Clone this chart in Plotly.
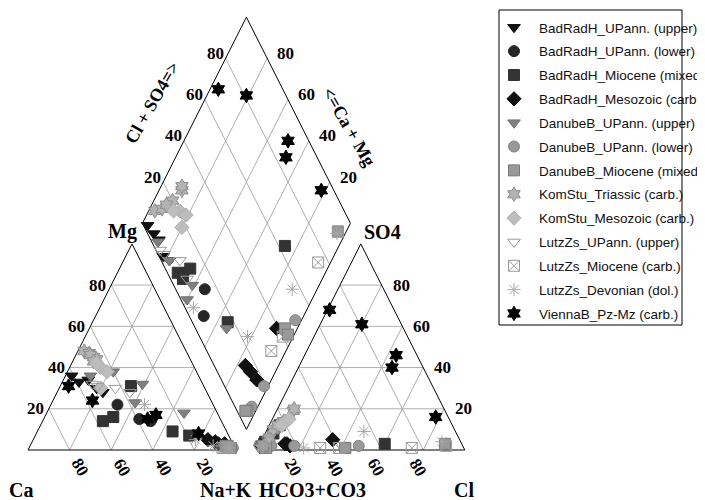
import numpy as np
import plotly.graph_objects as go

H = np.sqrt(3) / 2
GAP = 0.1
TICKS = [20, 40, 60, 80]

NAMES = ["BadRadH_UPann. (upper)", "BadRadH_UPann. (lower)", "BadRadH_Miocene (mixed)",
         "BadRadH_Mesozoic (carb.)", "DanubeB_UPann. (upper)", "DanubeB_UPann. (lower)",
         "DanubeB_Miocene (mixed)", "KomStu_Triassic (carb.)", "KomStu_Mesozoic (carb.)",
         "LutzZs_UPann. (upper)", "LutzZs_Miocene (carb.)", "LutzZs_Devonian (dol.)",
         "ViennaB_Pz-Mz (carb.)"]

# samples: (Mg %, Na+K %, SO4 %, Cl %)  (Ca and HCO3+CO3 are the remainders)
BR_UP = [(36, 3, 1, 1), (34, 12, 3, 1), (30, 18, 1, 1), (28, 22, 2, 2), (33, 8, 2, 1)]
BR_LO = [(15, 46, 10, 4), (14, 52, 4, 3), (22, 32, 5, 3)]
BR_MIO = [(7, 74, 3, 60), (9, 65, 12, 5), (31, 34, 8, 4), (14, 29, 3, 2), (16, 33, 4, 2)]
BR_MESO = [(5, 84, 3, 12), (4, 88, 3, 13), (3, 93, 2, 15), (3, 90, 5, 34)]
DB_UP = [(18, 66, 10, 5), (23, 40, 2, 1), (32, 39, 6, 3), (38, 22, 3, 1), (36, 12, 2, 1)]
DB_LO = [(1, 98, 2, 17), (1, 97, 2, 48), (1, 97, 2, 6)]
DB_MIO = [(2, 94, 1, 42), (1, 97, 1, 42), (1, 96, 1, 4), (2, 95, 2, 2), (1, 96, 3, 89)]
KS_TRI = [(48, 3, 6, 3), (47, 6, 10, 3), (45, 9, 14, 6), (44, 11, 19, 8), (46, 7, 12, 4), (43, 10, 20, 8)]
KS_MESO = [(40, 15, 14, 7), (38, 19, 15, 8), (42, 12, 12, 6), (30, 20, 12, 6)]
LZ_UP = [(32, 15, 1, 1), (31, 18, 1, 2), (30, 27, 6, 3), (28, 35, 5, 3)]
LZ_MIO = [(1, 93, 1, 30), (1, 94, 1, 74), (1, 95, 1, 39), (1, 96, 2, 90)]
LZ_DEV = [(22, 45, 2, 2), (5, 78, 1, 22), (2, 88, 9, 47), (1, 96, 4, 87)]
VB = [(31, 4, 68, 1), (24, 19, 61, 20), (15, 50, 46, 44), (17, 53, 40, 45), (8, 78, 16, 78)]

DATA = [BR_UP, BR_LO, BR_MIO, BR_MESO, DB_UP, DB_LO, DB_MIO, KS_TRI, KS_MESO,
        LZ_UP, LZ_MIO, LZ_DEV, VB]

STYLES = [
    dict(symbol="triangle-down", color="#111111", line=dict(color="#111111", width=1)),
    dict(symbol="circle", color="#262626", line=dict(color="#262626", width=1)),
    dict(symbol="square", color="#333333", line=dict(color="#333333", width=1)),
    dict(symbol="diamond", color="#111111", line=dict(color="#111111", width=1)),
    dict(symbol="triangle-down", color="#808080", line=dict(color="#707070", width=1)),
    dict(symbol="circle", color="#999999", line=dict(color="#808080", width=1)),
    dict(symbol="square", color="#999999", line=dict(color="#7a7a7a", width=1)),
    dict(symbol="hexagram", color="#b3b3b3", line=dict(color="#8c8c8c", width=1)),
    dict(symbol="diamond", color="#bdbdbd", line=dict(color="#b0b0b0", width=1)),
    dict(symbol="triangle-down-open", color="#9a9a9a", line=dict(color="#9a9a9a", width=1)),
    dict(symbol="square-x-open", color="#9a9a9a", line=dict(color="#9a9a9a", width=1)),
    dict(symbol="asterisk-open", color="#a6a6a6", line=dict(color="#a6a6a6", width=1)),
    dict(symbol="hexagram", color="#000000", line=dict(color="#000000", width=1)),
]


def cat_xy(mg, nak):
    return nak / 100 + mg / 200, mg / 100 * H


def an_xy(so4, cl):
    return 1 + GAP + cl / 100 + so4 / 200, so4 / 100 * H


def dia_xy(nak, so4, cl):
    u = (so4 + cl) / 100
    v = 1 - nak / 100
    return 1 + GAP / 2 + 0.5 * (u - v), GAP * H + H * (u + v)


# page geometry (the page body has an 8 px margin)
OFF = 8
W, HGT = 705 - OFF, 500 - OFF
X0, SX = 28, 208      # page px of x=0, px per unit
Y0, SY = 450, 238     # page px of y=0, px per unit


def px2data(px, py):
    return (px - X0) / SX, (Y0 - py) / SY


def px2paper(px, py):
    return (px - OFF) / W, 1 - (py - OFF) / HGT


fig = go.Figure()

# ---- frame: grid and outlines ----
gx, gy = [], []


def seg(p, q, xs, ys):
    xs += [p[0], q[0], None]
    ys += [p[1], q[1], None]


for k in TICKS:
    seg(cat_xy(k, 0), cat_xy(k, 100 - k), gx, gy)
    seg(cat_xy(0, k), cat_xy(100 - k, k), gx, gy)
    seg(cat_xy(0, 100 - k), cat_xy(100 - k, 0), gx, gy)
    seg(an_xy(k, 0), an_xy(k, 100 - k), gx, gy)
    seg(an_xy(0, k), an_xy(100 - k, k), gx, gy)
    seg(an_xy(0, 100 - k), an_xy(100 - k, 0), gx, gy)
    seg(dia_xy(100, k, 0), dia_xy(0, k, 0), gx, gy)
    seg(dia_xy(100 - k, 0, 0), dia_xy(100 - k, 100, 0), gx, gy)

fig.add_trace(go.Scatter(x=gx, y=gy, mode="lines", line=dict(color="#9a9a9a", width=0.8),
                         hoverinfo="skip", showlegend=False))

ox, oy = [], []
for pts in ([cat_xy(0, 0), cat_xy(0, 100), cat_xy(100, 0), cat_xy(0, 0)],
            [an_xy(0, 0), an_xy(0, 100), an_xy(100, 0), an_xy(0, 0)],
            [dia_xy(100, 0, 0), dia_xy(0, 0, 0), dia_xy(0, 100, 0), dia_xy(100, 100, 0),
             dia_xy(100, 0, 0)]):
    ox += [p[0] for p in pts] + [None]
    oy += [p[1] for p in pts] + [None]
fig.add_trace(go.Scatter(x=ox, y=oy, mode="lines", line=dict(color="black", width=1),
                         hoverinfo="skip", showlegend=False))

# ---- data ----
for name, samples, st in zip(NAMES, DATA, STYLES):
    xs, ys = [], []
    for mg, nak, so4, cl in samples:
        for p in (cat_xy(mg, nak), an_xy(so4, cl), dia_xy(nak, so4, cl)):
            xs.append(p[0])
            ys.append(p[1])
    fig.add_trace(go.Scatter(
        x=xs, y=ys, mode="markers", name=name, legendgroup=name,
        marker=dict(symbol=st["symbol"], size=11, color=st["color"], line=st["line"])))

# ---- labels ----
TF = dict(family="Liberation Serif", size=17, color="black")
CF = dict(family="Liberation Serif", size=20, color="black")
RF = dict(family="Liberation Serif", size=18, color="black")
ann = []
for k in TICKS:
    x, y = cat_xy(k, 0)
    ann.append(dict(x=x, y=y, text=f"<b>{k}</b>", xanchor="right", yanchor="middle",
                    xshift=-3, font=TF))
    x, y = cat_xy(0, 100 - k)
    ann.append(dict(x=x, y=y, text=f"<b>{k}</b>", xanchor="center", yanchor="middle",
                    xshift=11, yshift=-17, textangle=60, font=TF))
    x, y = an_xy(0, k)
    ann.append(dict(x=x, y=y, text=f"<b>{k}</b>", xanchor="center", yanchor="middle",
                    xshift=-5, yshift=-17, textangle=60, font=TF))
    x, y = an_xy(k, 100 - k)
    ann.append(dict(x=x, y=y, text=f"<b>{k}</b>", xanchor="left", yanchor="middle",
                    xshift=9, font=TF))
    x, y = dia_xy(0, k, 0)
    ann.append(dict(x=x, y=y, text=f"<b>{k}</b>", xanchor="right", yanchor="middle",
                    xshift=0, yshift=5, font=TF))
    x, y = dia_xy(100 - k, 100, 0)
    ann.append(dict(x=x, y=y, text=f"<b>{k}</b>", xanchor="left", yanchor="middle",
                    xshift=8, yshift=5, font=TF))

corner = [("Mg", cat_xy(100, 0), -10, 12), ("SO4", an_xy(100, 0), 22, 12),
          ("Ca", cat_xy(0, 0), -7, -40), ("Na+K", cat_xy(0, 100), -10, -40),
          ("HCO3+CO3", an_xy(0, 0), 56, -40), ("Cl", an_xy(0, 100), -1, -40)]
for t, (x, y), dx, dy in corner:
    ann.append(dict(x=x, y=y, text=f"<b>{t}</b>", xanchor="center", yanchor="middle",
                    xshift=dx, yshift=dy, font=CF))

x, y = px2data(152, 103)
ann.append(dict(x=x, y=y, text="<b>Cl + SO4=></b>", textangle=-60, xanchor="center",
                yanchor="middle", font=RF))
x, y = px2data(349, 127)
ann.append(dict(x=x, y=y, text="<b><=Ca + Mg</b>", textangle=60, xanchor="center",
                yanchor="middle", font=RF))
for a in ann:
    a.update(xref="x", yref="y", showarrow=False)

lx, ly = px2paper(489, 12)
bx0, by0 = px2paper(499, 10)
bx1, by1 = px2paper(682, 325)
fig.update_layout(
    width=W, height=HGT, autosize=False,
    margin=dict(l=0, r=0, t=0, b=0, autoexpand=False),
    paper_bgcolor="white", plot_bgcolor="white",
    xaxis=dict(range=[(OFF - X0) / SX, (705 - X0) / SX], visible=False, fixedrange=True),
    yaxis=dict(range=[(Y0 - 500) / SY, (Y0 - OFF) / SY], visible=False, fixedrange=True),
    annotations=ann,
    showlegend=True,
    legend=dict(x=lx, y=ly, xanchor="left", yanchor="top", itemwidth=40,
                bgcolor="rgba(0,0,0,0)", borderwidth=0, tracegroupgap=3.3,
                font=dict(family="Liberation Sans", size=13.5, color="#111111")),
    shapes=[dict(type="rect", xref="paper", yref="paper", x0=bx0, x1=bx1,
                 y0=by1, y1=by0, line=dict(color="black", width=1))],
)

fig.write_html("out.html")
